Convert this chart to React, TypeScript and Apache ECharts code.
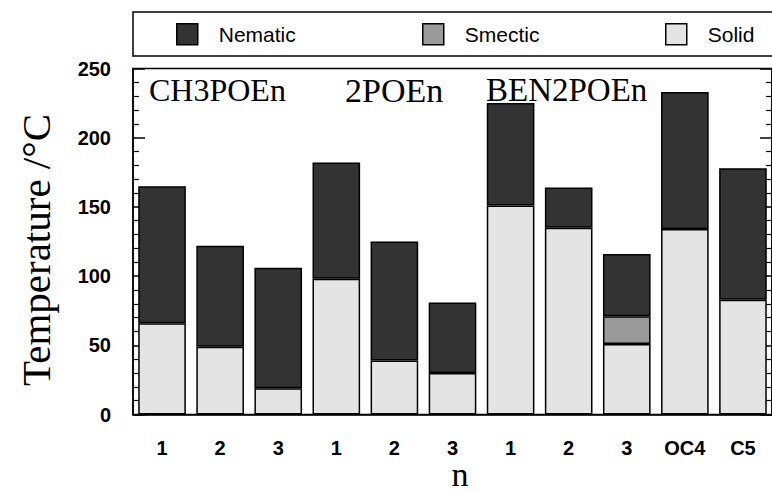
import React, { useEffect, useRef } from "react";
import * as echarts from "echarts";

const categories = ["1", "2", "3", "1", "2", "3", "1", "2", "3", "OC4", "C5"];
// transition temperatures (°C): top of each phase band
const solidTop = [66, 49, 19, 98, 39, 30, 151, 135, 51, 134, 83];
const smecticTop = [null, null, null, null, null, null, null, null, 71, null, null];
const nematicTop = [165, 122, 106, 182, 125, 81, 225, 164, 116, 233, 178];
const groupLabels = ["CH3POEn", "2POEn", "BEN2POEn"];
const yTicks = [0, 50, 100, 150, 200, 250];

const C_NEM = "#333333";
const C_SME = "#9a9a9a";
const C_SOL = "#e4e4e4";

export default function App() {
  const ref = useRef<HTMLDivElement>(null);
  useEffect(() => {
    if (!ref.current) return;
    const chart = echarts.init(ref.current, undefined, { renderer: "svg" });
    const smecticBand = smecticTop.map((v, i) => (v == null ? null : v - solidTop[i]));
    const nematicBand = nematicTop.map((v, i) => v - (smecticTop[i] ?? solidTop[i]));
    const barStyle = (c: string) => ({ color: c, borderColor: "#000", borderWidth: 1.5 });
    const legendBase = {
      top: 18,
      itemWidth: 21,
      itemHeight: 21,
      icon: "rect",
      textStyle: { fontFamily: "Liberation Sans", fontSize: 21, color: "#000", padding: [0, 0, 0, 16] },
      selectedMode: false,
    };
    const yAxisBase = {
      type: "value",
      min: yTicks[0],
      max: yTicks[yTicks.length - 1],
      interval: 50,
      axisLine: { show: true, lineStyle: { color: "#000", width: 1.5 } },
      axisTick: { show: true, inside: true, length: 12, lineStyle: { color: "#000", width: 1.5 } },
      minorTick: { show: true, splitNumber: 5, length: 6, lineStyle: { color: "#000", width: 1.2 } },
      splitLine: { show: false },
    };
    chart.setOption({
      animation: false,
      backgroundColor: "#fff",
      legend: [
        { ...legendBase, left: 171, data: [{ name: "Nematic", itemStyle: barStyle(C_NEM) }] },
        { ...legendBase, left: 417, data: [{ name: "Smectic", itemStyle: barStyle(C_SME) }] },
        { ...legendBase, left: 660, data: [{ name: "Solid", itemStyle: barStyle(C_SOL) }] },
      ],
      grid: {
        left: 133,
        width: 646,
        top: 68.5,
        bottom: 78.5,
        show: true,
        borderColor: "#000",
        borderWidth: 1.5,
        backgroundColor: "transparent",
      },
      xAxis: {
        type: "category",
        data: categories,
        axisLine: { lineStyle: { color: "#000", width: 1.5 } },
        axisTick: { inside: true, length: 12, lineStyle: { color: "#000", width: 1.5 } },
        axisLabel: {
          fontFamily: "Liberation Sans",
          fontWeight: "bold",
          fontSize: 20,
          color: "#000",
          margin: 23,
        },
      },
      yAxis: [
        {
          ...yAxisBase,
          axisLabel: {
            fontFamily: "Liberation Sans",
            fontWeight: "bold",
            fontSize: 20,
            color: "#000",
            margin: 22,
          },
        },
        { ...yAxisBase, position: "right", axisLabel: { show: false } },
      ],
      series: [
        { name: "Solid", type: "bar", stack: "t", data: solidTop, barCategoryGap: "18%", itemStyle: barStyle(C_SOL) },
        { name: "Smectic", type: "bar", stack: "t", data: smecticBand, itemStyle: barStyle(C_SME) },
        { name: "Nematic", type: "bar", stack: "t", data: nematicBand, itemStyle: barStyle(C_NEM) },
      ],
      graphic: [
        {
          type: "rect",
          shape: { x: 133, y: 12, width: 660, height: 44 },
          style: { fill: "none", stroke: "#000", lineWidth: 1.5 },
          z: -1,
        },
        {
          type: "text",
          x: 149,
          y: 90,
          style: { text: groupLabels[0], font: '32px "Liberation Serif"', fill: "#000", verticalAlign: "middle" },
        },
        {
          type: "text",
          x: 345,
          y: 90,
          style: { text: groupLabels[1], font: '34px "Liberation Serif"', fill: "#000", verticalAlign: "middle" },
        },
        {
          type: "text",
          x: 486,
          y: 90,
          style: { text: groupLabels[2], font: '33px "Liberation Serif"', fill: "#000", verticalAlign: "middle" },
        },
        {
          type: "text",
          x: 36,
          y: 250,
          rotation: Math.PI / 2,
          style: {
            text: "Temperature /°C",
            font: '41px "Liberation Serif"',
            fill: "#000",
            align: "center",
            verticalAlign: "middle",
          },
        },
        {
          type: "text",
          x: 460,
          y: 474,
          style: {
            text: "n",
            font: '34px "Liberation Serif"',
            fill: "#000",
            align: "center",
            verticalAlign: "middle",
          },
        },
      ],
    });
    return () => chart.dispose();
  }, []);
  return (
    <div
      ref={ref}
      style={{ position: "fixed", left: 0, top: 0, width: 772, height: 493, background: "#fff" }}
    />
  );
}
